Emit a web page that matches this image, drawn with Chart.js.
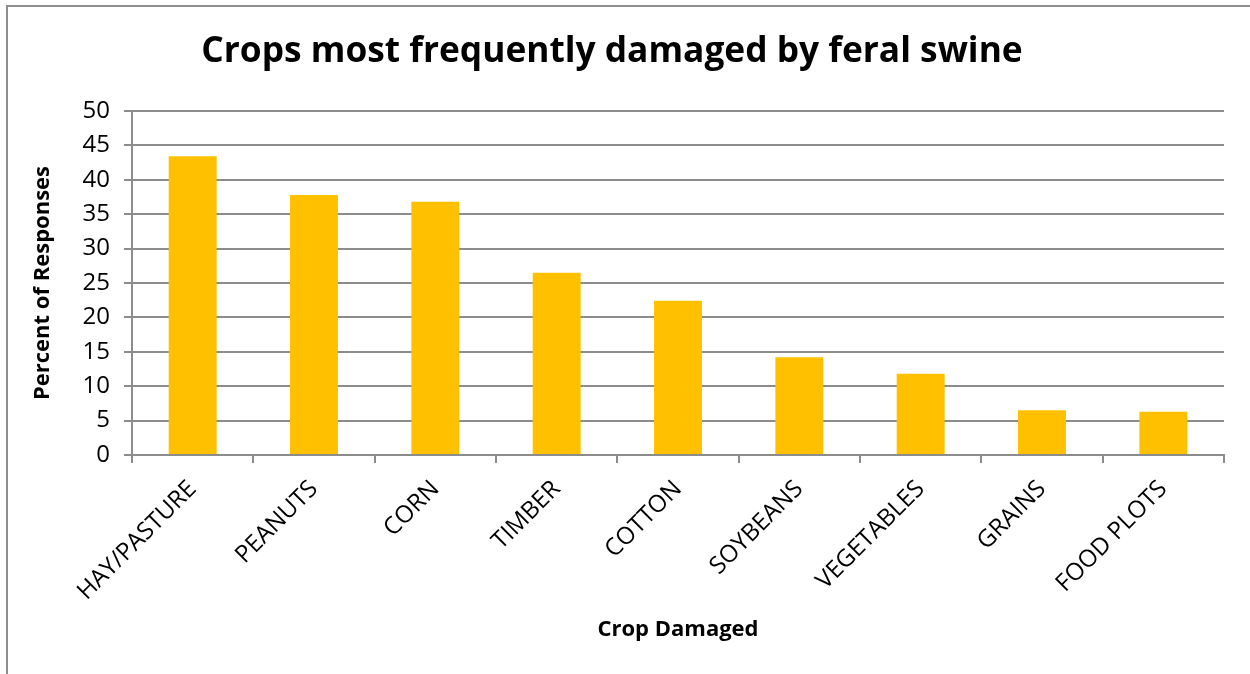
<!DOCTYPE html>
<html>
<head>
<meta charset="utf-8">
<script src="https://cdn.jsdelivr.net/npm/chart.js@4/dist/chart.umd.min.js"></script>
<style>
  html, body { margin: 0; padding: 0; background: #ffffff; }
  #wrap { position: relative; width: 1250px; height: 674px; overflow: hidden; }
  #frame { position: absolute; left: 6px; top: 5px; width: 1300px; height: 700px;
           border-top: 2px solid #8e8e8e; border-left: 2px solid #8e8e8e; box-sizing: border-box; }
  canvas { position: absolute; left: 0; top: 0; }
</style>
</head>
<body>
<div id="wrap">
  <div id="frame"></div>
  <canvas id="chart" width="1250" height="674"></canvas>
</div>
<script>
const categories = ['HAY/PASTURE', 'PEANUTS', 'CORN', 'TIMBER', 'COTTON', 'SOYBEANS', 'VEGETABLES', 'GRAINS', 'FOOD PLOTS'];
const percentOfResponses = [43.4, 37.8, 36.8, 26.5, 22.4, 14.2, 11.8, 6.5, 6.3];
const yTicks = [0, 5, 10, 15, 20, 25, 30, 35, 40, 45, 50];

const FONT = "'Open Sans', 'Noto Sans', sans-serif";
const GRID = '#8c8c8c';

new Chart(document.getElementById('chart'), {
  type: 'bar',
  data: {
    labels: categories,
    datasets: [{
      data: percentOfResponses,
      backgroundColor: '#FFC000',
      borderWidth: 0,
      barPercentage: 0.395,
      categoryPercentage: 1.0
    }]
  },
  options: {
    responsive: false,
    animation: false,
    layout: { padding: { left: 0, right: 26, top: 0, bottom: 0 } },
    plugins: {
      legend: { display: false },
      tooltip: { enabled: false },
      title: {
        display: true,
        text: 'Crops most frequently damaged by feral swine',
        color: '#000000',
        font: { family: FONT, size: 35.3, weight: 'bold', lineHeight: 1.2 },
        padding: { top: 31, bottom: 37.6 }
      }
    },
    scales: {
      x: {
        grid: {
          offset: true,
          drawOnChartArea: false,
          drawTicks: true,
          tickLength: 8,
          color: GRID,
          lineWidth: 2
        },
        border: { display: true, color: GRID, width: 2 },
        ticks: {
          color: '#000000',
          font: { family: FONT, size: 24 },
          minRotation: 45,
          maxRotation: 45,
          padding: 12,
          autoSkip: false
        },
        title: {
          display: true,
          text: 'Crop Damaged',
          color: '#000000',
          font: { family: FONT, size: 22, weight: 'bold', lineHeight: 1.2 },
          padding: { top: 0, bottom: 31 }
        },
        afterFit(scale) { scale.height = 219; }
      },
      y: {
        min: 0,
        max: 50,
        afterBuildTicks(scale) { scale.ticks = yTicks.map(v => ({ value: v })); },
        grid: {
          color: GRID,
          lineWidth: 2,
          drawTicks: true,
          tickLength: 8
        },
        border: { display: true, color: GRID, width: 2 },
        ticks: {
          color: '#000000',
          font: { family: FONT, size: 24 },
          padding: 14
        },
        title: {
          display: true,
          text: 'Percent of Responses',
          color: '#000000',
          font: { family: FONT, size: 22, weight: 'bold', lineHeight: 1.2 },
          padding: { top: 30, bottom: 0 }
        },
        afterFit(scale) { scale.width = 132; }
      }
    }
  }
});
</script>
</body>
</html>
